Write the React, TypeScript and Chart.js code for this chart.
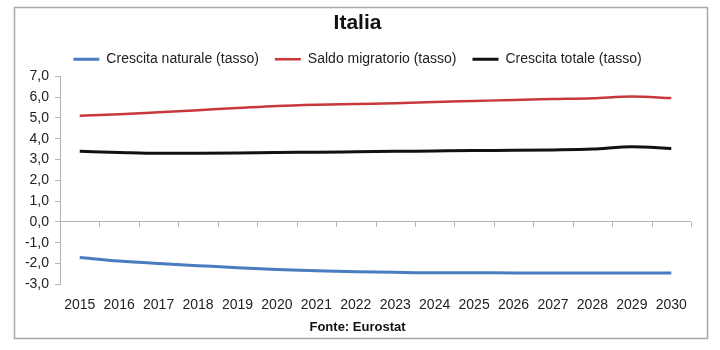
import React, { useEffect, useRef } from "react";
import { Chart, registerables } from "chart.js";

Chart.register(...registerables);

const years = ["2015", "2016", "2017", "2018", "2019", "2020", "2021", "2022", "2023", "2024", "2025", "2026", "2027", "2028", "2029", "2030"];
const crescitaNaturale = [-1.71, -1.88, -2.0, -2.1, -2.2, -2.28, -2.34, -2.39, -2.42, -2.44, -2.44, -2.45, -2.45, -2.45, -2.45, -2.45];
const saldoMigratorio = [5.1, 5.17, 5.27, 5.37, 5.47, 5.57, 5.63, 5.67, 5.7, 5.76, 5.81, 5.86, 5.9, 5.94, 6.03, 5.95];
const crescitaTotale = [3.39, 3.34, 3.3, 3.3, 3.31, 3.34, 3.35, 3.37, 3.39, 3.41, 3.43, 3.44, 3.46, 3.5, 3.61, 3.53];
const seriesNames = ["Crescita naturale (tasso)", "Saldo migratorio (tasso)", "Crescita totale (tasso)"];
const titleText = "Italia";
const sourceText = "Fonte: Eurostat";
const yMin = -3;
const yMax = 7;

const FONT = "'Liberation Sans', Arial, Helvetica, sans-serif";
const AXIS_GRAY = "#b4b4b4";

const framePlugin = {
  id: "frame",
  beforeDraw(chart: any) {
    const { ctx, width, height } = chart;
    ctx.save();
    ctx.fillStyle = "#ffffff";
    ctx.fillRect(0, 0, width, height);
    ctx.strokeStyle = "#a8a8a8";
    ctx.lineWidth = 1.5;
    ctx.strokeRect(14.5, 7.5, 693, 331);
    ctx.restore();
  },
};

const zeroTicksPlugin = {
  id: "zeroTicks",
  beforeDatasetsDraw(chart: any) {
    const xs = chart.scales.x;
    const ys = chart.scales.y;
    const ctx = chart.ctx;
    const y0 = ys.getPixelForValue(0);
    const step = xs.getPixelForValue(1) - xs.getPixelForValue(0);
    ctx.save();
    ctx.strokeStyle = AXIS_GRAY;
    ctx.lineWidth = 1;
    for (let i = 0; i <= years.length; i++) {
      const x = Math.round(xs.getPixelForValue(i) - step / 2) + 0.5;
      ctx.beginPath();
      ctx.moveTo(x, y0);
      ctx.lineTo(x, y0 + 5);
      ctx.stroke();
    }
    ctx.restore();
  },
};

export default function App() {
  const ref = useRef<HTMLCanvasElement>(null);
  useEffect(() => {
    if (!ref.current) return;
    const chart = new Chart(ref.current, {
      type: "line",
      data: {
        labels: years,
        datasets: [
          {
            label: seriesNames[0],
            data: crescitaNaturale,
            borderColor: "#4a7cc0",
            backgroundColor: "#4a7cc0",
            borderWidth: 3,
            pointRadius: 0,
            cubicInterpolationMode: "monotone",
          },
          {
            label: seriesNames[1],
            data: saldoMigratorio,
            borderColor: "#c8383a",
            backgroundColor: "#c8383a",
            borderWidth: 2.5,
            pointRadius: 0,
            cubicInterpolationMode: "monotone",
          },
          {
            label: seriesNames[2],
            data: crescitaTotale,
            borderColor: "#111111",
            backgroundColor: "#111111",
            borderWidth: 3,
            pointRadius: 0,
            cubicInterpolationMode: "monotone",
          },
        ],
      },
      options: {
        responsive: false,
        animation: false,
        layout: { padding: { left: 24, right: 29, top: 11, bottom: 13 } },
        plugins: {
          title: {
            display: true,
            text: titleText,
            color: "#111",
            font: { family: FONT, size: 21, weight: "bold" },
            padding: { top: 0, bottom: 0 },
          },
          subtitle: {
            display: true,
            position: "bottom",
            text: sourceText,
            color: "#111",
            font: { family: FONT, size: 13, weight: "bold" },
            padding: { top: 4, bottom: 2 },
          },
          legend: {
            display: true,
            position: "top",
            labels: {
              color: "#222",
              font: { family: FONT, size: 14 },
              usePointStyle: true,
              pointStyle: "line",
              pointStyleWidth: 26,
              padding: 16,
            },
          },
          tooltip: { enabled: false },
        },
        scales: {
          x: {
            type: "category",
            offset: true,
            grid: { display: false, drawTicks: false },
            border: { display: false },
            ticks: {
              color: "#222",
              font: { family: FONT, size: 14 },
              padding: 12,
              maxRotation: 0,
              autoSkip: false,
            },
            afterFit(s: any) {
              s.height = 31;
            },
          },
          y: {
            min: yMin,
            max: yMax,
            ticks: {
              stepSize: 1,
              color: "#222",
              font: { family: FONT, size: 14 },
              padding: 6,
              callback: (v: any) => Number(v).toFixed(1).replace(".", ","),
            },
            grid: {
              color: (c: any) => (c.tick && c.tick.value === 0 ? AXIS_GRAY : "rgba(0,0,0,0)"),
              tickColor: AXIS_GRAY,
              tickLength: 5,
              lineWidth: 1,
            },
            border: { display: true, color: AXIS_GRAY, width: 1 },
            afterFit(s: any) {
              s.width = 36;
            },
          },
        },
      },
      plugins: [framePlugin, zeroTicksPlugin],
    } as any);
    return () => chart.destroy();
  }, []);
  return (
    <div style={{ position: "fixed", left: 0, top: 0, width: 720, height: 350 }}>
      <canvas ref={ref} width={720} height={350} />
    </div>
  );
}
